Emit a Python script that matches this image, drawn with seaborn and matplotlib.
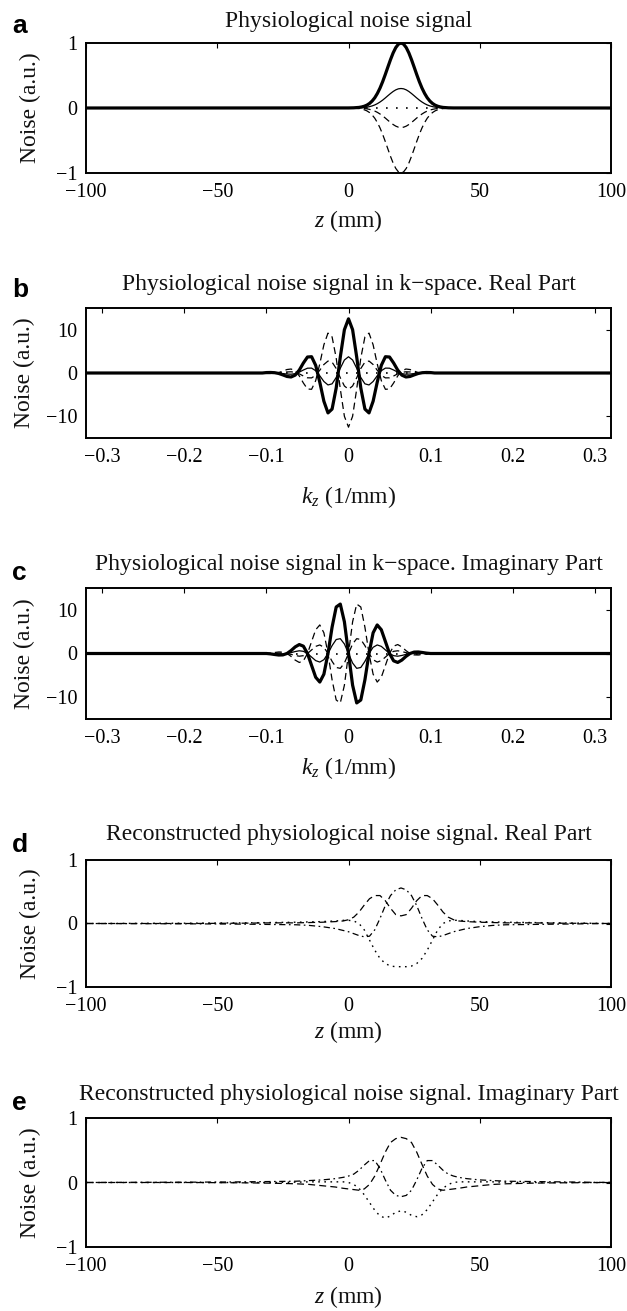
import matplotlib
matplotlib.use("Agg")
import matplotlib.pyplot as plt
import seaborn as sns

# ---------------- data ----------------
# (a) physiological noise profiles along z (mm)
z_a = [-100, 0, 2, 4, 5, 6, 7, 8, 9, 10, 11, 12, 13, 14, 15, 16, 17, 18, 19, 20,
       21, 22, 23, 24, 25, 26, 27, 28, 29, 30, 31, 32, 33, 34, 35, 36, 38, 40, 100]
noise_a_thick = [0, 0.001, 0.003, 0.009, 0.016, 0.027, 0.044, 0.070, 0.107, 0.157,
                 0.224, 0.306, 0.404, 0.514, 0.630, 0.744, 0.847, 0.929, 0.982, 1.000,
                 0.982, 0.929, 0.847, 0.744, 0.630, 0.514, 0.404, 0.306, 0.224, 0.157,
                 0.107, 0.070, 0.044, 0.027, 0.016, 0.009, 0.003, 0.001, 0]
noise_a_thin = [0, 0.000, 0.001, 0.003, 0.005, 0.008, 0.013, 0.021, 0.032, 0.047,
                0.067, 0.092, 0.121, 0.154, 0.189, 0.223, 0.254, 0.279, 0.295, 0.300,
                0.295, 0.279, 0.254, 0.223, 0.189, 0.154, 0.121, 0.092, 0.067, 0.047,
                0.032, 0.021, 0.013, 0.008, 0.005, 0.003, 0.001, 0.000, 0]
noise_a_negsmall = [0, -0.000, -0.001, -0.003, -0.005, -0.008, -0.013, -0.021, -0.032, -0.047,
                    -0.067, -0.092, -0.121, -0.154, -0.189, -0.223, -0.254, -0.279, -0.295, -0.300,
                    -0.295, -0.279, -0.254, -0.223, -0.189, -0.154, -0.121, -0.092, -0.067, -0.047,
                    -0.032, -0.021, -0.013, -0.008, -0.005, -0.003, -0.001, -0.000, 0]
noise_a_neglarge = [0, -0.001, -0.003, -0.009, -0.016, -0.027, -0.044, -0.070, -0.107, -0.157,
                    -0.224, -0.306, -0.404, -0.514, -0.630, -0.744, -0.847, -0.929, -0.982, -1.000,
                    -0.982, -0.929, -0.847, -0.744, -0.630, -0.514, -0.404, -0.306, -0.224, -0.157,
                    -0.107, -0.070, -0.044, -0.027, -0.016, -0.009, -0.003, -0.001, 0]
z_zero = [-100, 100]
zero_line = [0, 0]

# (b, c) k-space samples (1/mm)
k_b = [-0.32, -0.105,
       -0.100, -0.095, -0.090, -0.085, -0.080, -0.075, -0.070, -0.065, -0.060, -0.055,
       -0.050, -0.045, -0.040, -0.035, -0.030, -0.025, -0.020, -0.015, -0.010, -0.005,
       0.000,
       0.005, 0.010, 0.015, 0.020, 0.025, 0.030, 0.035, 0.040, 0.045, 0.050,
       0.055, 0.060, 0.065, 0.070, 0.075, 0.080, 0.085, 0.090, 0.095, 0.100,
       0.105, 0.32]
k_zero = [-0.32, 0.32]

real_thick = [0, 0,
              0.10, 0.12, 0.07, -0.11, -0.44, -0.80, -0.92, -0.49, 0.67, 2.31,
              3.69, 3.76, 1.77, -2.13, -6.52, -9.21, -8.32, -3.46, 3.68, 9.99,
              12.50,
              9.99, 3.68, -3.46, -8.32, -9.21, -6.52, -2.13, 1.77, 3.76, 3.69,
              2.31, 0.67, -0.49, -0.92, -0.80, -0.44, -0.11, 0.07, 0.12, 0.10,
              0, 0]
real_thin = [0, 0,
             0.03, 0.04, 0.02, -0.03, -0.13, -0.24, -0.28, -0.15, 0.20, 0.69,
             1.11, 1.13, 0.53, -0.64, -1.96, -2.76, -2.50, -1.04, 1.10, 3.00,
             3.75,
             3.00, 1.10, -1.04, -2.50, -2.76, -1.96, -0.64, 0.53, 1.13, 1.11,
             0.69, 0.20, -0.15, -0.28, -0.24, -0.13, -0.03, 0.02, 0.04, 0.03,
             0, 0]
real_negsmall = [0, 0,
                 -0.03, -0.04, -0.02, 0.03, 0.13, 0.24, 0.28, 0.15, -0.20, -0.69,
                 -1.11, -1.13, -0.53, 0.64, 1.96, 2.76, 2.50, 1.04, -1.10, -3.00,
                 -3.75,
                 -3.00, -1.10, 1.04, 2.50, 2.76, 1.96, 0.64, -0.53, -1.13, -1.11,
                 -0.69, -0.20, 0.15, 0.28, 0.24, 0.13, 0.03, -0.02, -0.04, -0.03,
                 0, 0]
real_neglarge = [0, 0,
                 -0.10, -0.12, -0.07, 0.11, 0.44, 0.80, 0.92, 0.49, -0.67, -2.31,
                 -3.69, -3.76, -1.77, 2.13, 6.52, 9.21, 8.32, 3.46, -3.68, -9.99,
                 -12.50,
                 -9.99, -3.68, 3.46, 8.32, 9.21, 6.52, 2.13, -1.77, -3.76, -3.69,
                 -2.31, -0.67, 0.49, 0.92, 0.80, 0.44, 0.11, -0.07, -0.12, -0.10,
                 0, 0]

imag_thick = [0, 0,
              0.00, -0.09, -0.23, -0.35, -0.32, 0.00, 0.67, 1.51, 2.05, 1.68,
              0.00, -2.73, -5.44, -6.54, -4.74, 0.00, 6.04, 10.65, 11.32, 7.26,
              0.00,
              -7.26, -11.32, -10.65, -6.04, 0.00, 4.74, 6.54, 5.44, 2.73, 0.00,
              -1.68, -2.05, -1.51, -0.67, 0.00, 0.32, 0.35, 0.23, 0.09, 0.00,
              0, 0]
imag_thin = [0, 0,
             0.00, -0.03, -0.07, -0.11, -0.10, 0.00, 0.20, 0.45, 0.62, 0.50,
             0.00, -0.82, -1.63, -1.96, -1.42, 0.00, 1.81, 3.20, 3.40, 2.18,
             0.00,
             -2.18, -3.40, -3.20, -1.81, 0.00, 1.42, 1.96, 1.63, 0.82, 0.00,
             -0.50, -0.62, -0.45, -0.20, 0.00, 0.10, 0.11, 0.07, 0.03, 0.00,
             0, 0]
imag_negsmall = [0, 0,
                 0.00, 0.03, 0.07, 0.11, 0.10, 0.00, -0.20, -0.45, -0.62, -0.50,
                 0.00, 0.82, 1.63, 1.96, 1.42, 0.00, -1.81, -3.20, -3.40, -2.18,
                 0.00,
                 2.18, 3.40, 3.20, 1.81, 0.00, -1.42, -1.96, -1.63, -0.82, 0.00,
                 0.50, 0.62, 0.45, 0.20, 0.00, -0.10, -0.11, -0.07, -0.03, 0.00,
                 0, 0]
imag_neglarge = [0, 0,
                 0.00, 0.09, 0.23, 0.35, 0.32, 0.00, -0.67, -1.51, -2.05, -1.68,
                 0.00, 2.73, 5.44, 6.54, 4.74, 0.00, -6.04, -10.65, -11.32, -7.26,
                 0.00,
                 7.26, 11.32, 10.65, 6.04, 0.00, -4.74, -6.54, -5.44, -2.73, 0.00,
                 1.68, 2.05, 1.51, 0.67, 0.00, -0.32, -0.35, -0.23, -0.09, 0.00,
                 0, 0]

# (d, e) reconstructed signals along z (mm)
z_rec = [-100, -60, -40, -30, -20, -15, -10, -5, -2, 0, 2, 4, 6, 8, 10, 12, 14, 16, 18, 20,
         22, 24, 26, 28, 30, 32, 34, 36, 38, 40, 42, 45, 50, 55, 60, 70, 80, 100]
rec_real_dash = [0.0, 0.0, 0.005, 0.01, 0.01, 0.015, 0.02, 0.03, 0.04, 0.06, 0.10, 0.18, 0.29,
                 0.39, 0.44, 0.44, 0.36, 0.24, 0.14, 0.12, 0.14, 0.24, 0.36, 0.44, 0.44, 0.39,
                 0.29, 0.18, 0.10, 0.06, 0.04, 0.03, 0.02, 0.015, 0.01, 0.01, 0.005, 0.0]
rec_real_dashdot = [0.0, -0.005, -0.01, -0.015, -0.02, -0.03, -0.05, -0.08, -0.11, -0.13, -0.16,
                    -0.19, -0.21, -0.20, -0.10, 0.08, 0.28, 0.44, 0.53, 0.56, 0.53, 0.44, 0.28,
                    0.08, -0.10, -0.20, -0.21, -0.19, -0.16, -0.13, -0.11, -0.08, -0.05, -0.03,
                    -0.02, -0.015, -0.01, 0.0]
rec_real_dot = [0.0, 0.005, 0.01, 0.015, 0.02, 0.025, 0.03, 0.04, 0.05, 0.05, 0.04, 0.00, -0.10,
                -0.26, -0.42, -0.55, -0.63, -0.67, -0.68, -0.68, -0.68, -0.67, -0.63, -0.55,
                -0.42, -0.26, -0.10, 0.00, 0.04, 0.05, 0.05, 0.04, 0.03, 0.025, 0.02, 0.015,
                0.01, 0.0]
rec_imag_dash = [0.0, 0.0, -0.005, -0.01, -0.02, -0.03, -0.05, -0.07, -0.09, -0.10, -0.11, -0.12,
                 -0.10, -0.03, 0.10, 0.28, 0.47, 0.62, 0.68, 0.70, 0.68, 0.62, 0.47, 0.28, 0.10,
                 -0.03, -0.10, -0.12, -0.11, -0.10, -0.09, -0.07, -0.05, -0.03, -0.02, -0.01,
                 -0.005, 0.0]
rec_imag_dashdot = [0.0, 0.005, 0.01, 0.015, 0.02, 0.03, 0.04, 0.06, 0.08, 0.10, 0.13, 0.19, 0.27,
                    0.34, 0.34, 0.22, 0.04, -0.12, -0.20, -0.22, -0.20, -0.12, 0.04, 0.22, 0.34,
                    0.34, 0.27, 0.19, 0.13, 0.10, 0.08, 0.06, 0.04, 0.03, 0.02, 0.015, 0.01, 0.0]
rec_imag_dot = [0.0, 0.0, 0.0, 0.0, 0.005, 0.01, 0.01, 0.01, 0.01, 0.0, -0.03, -0.09, -0.19,
                -0.31, -0.43, -0.52, -0.55, -0.52, -0.46, -0.44, -0.46, -0.51, -0.53, -0.50,
                -0.42, -0.30, -0.18, -0.09, -0.03, 0.0, 0.01, 0.01, 0.01, 0.01, 0.005, 0.0,
                0.0, 0.0]

# tick labels
z_ticks = [-100, -50, 0, 50, 100]
z_ticklabels = ["\u2212100", "\u221250", "0", "50", "100"]
k_ticks = [-0.3, -0.2, -0.1, 0, 0.1, 0.2, 0.3]
k_ticklabels = ["\u22120.3", "\u22120.2", "\u22120.1", "0", "0.1", "0.2", "0.3"]
unit_ticks = [-1, 0, 1]
unit_ticklabels = ["\u22121", "0", "1"]
ten_ticks = [-10, 0, 10]
ten_ticklabels = ["\u221210", "0", "10"]

titles = ["Physiological noise signal",
          "Physiological noise signal in k\u2212space. Real Part",
          "Physiological noise signal in k\u2212space. Imaginary Part",
          "Reconstructed physiological noise signal. Real Part",
          "Reconstructed physiological noise signal. Imaginary Part"]
letters = ["a", "b", "c", "d", "e"]

# ---------------- style ----------------
sns.set_style("white")
plt.rcParams["font.family"] = ["Liberation Serif", "DejaVu Serif"]
plt.rcParams["mathtext.fontset"] = "custom"
plt.rcParams["mathtext.rm"] = "Liberation Serif"
plt.rcParams["mathtext.it"] = "Liberation Serif:italic"
plt.rcParams["lines.scale_dashes"] = False
plt.rcParams["axes.unicode_minus"] = True

W, H = 627, 1311
fig = plt.figure(figsize=(W / 100, H / 100), dpi=100)
fig.patch.set_facecolor("white")

LEFT, RIGHT = 86, 611
TITLE_FS = 17
TICK_FS = 14.5


def px_axes(top, bottom):
    return fig.add_axes([LEFT / W, 1 - bottom / H, (RIGHT - LEFT) / W, (bottom - top) / H])


def text_px(x, y, s, **kw):
    fig.text(x / W, 1 - y / H, s, **kw)


DASH = (0, (5.0, 3.0))
DOT = (0, (1.2, 6.0))
DOT_FINE = (0, (1.2, 3.2))
DASHDOT = (0, (4.5, 2.5, 1.2, 2.5))


def line(ax, x, y, lw, ls):
    sns.lineplot(x=x, y=y, ax=ax, color="black", linewidth=lw, linestyle=ls,
                 estimator=None, sort=False)


def finish(ax, xlim, xticks, xlabels, ylim, yticks, ylabels):
    ax.set_xlim(*xlim)
    ax.set_ylim(*ylim)
    ax.set_xticks(xticks)
    ax.set_xticklabels(xlabels)
    ax.set_yticks(yticks)
    ax.set_yticklabels(ylabels)
    ax.set_xlabel("")
    ax.set_ylabel("")
    ax.tick_params(axis="both", direction="in", top=True, right=True,
                   length=3.8, width=0.8, labelsize=TICK_FS, colors="black")
    ax.tick_params(axis="x", pad=7)
    ax.tick_params(axis="y", pad=6)
    for sp in ax.spines.values():
        sp.set_linewidth(1.4)
        sp.set_color("black")
        sp.set_visible(True)
    ax.set_facecolor("white")


# panel geometry in pixels: axes top, bottom, title baseline, letter baseline,
# x-label baseline, y-label centre x
geo = [
    (43, 173, 27, 33, 227, 30),
    (308, 438, 290, 297, 503, 24),
    (588, 719, 570, 580, 774, 24),
    (860, 987, 840, 852, 1038, 30),
    (1118, 1247, 1100, 1110, 1303, 30),
]

axes = [px_axes(g[0], g[1]) for g in geo]

# (a)
ax = axes[0]
line(ax, z_zero, zero_line, 1.2, DOT)
line(ax, z_a, noise_a_neglarge, 0.9, DASH)
line(ax, z_a, noise_a_negsmall, 0.9, DASH)
line(ax, z_a, noise_a_thin, 0.9, "-")
line(ax, z_a, noise_a_thick, 2.3, "-")
finish(ax, (-100, 100), z_ticks, z_ticklabels, (-1, 1), unit_ticks, unit_ticklabels)

# (b)
ax = axes[1]
line(ax, k_zero, zero_line, 1.2, DOT)
line(ax, k_b, real_neglarge, 0.9, DASH)
line(ax, k_b, real_negsmall, 0.9, DASH)
line(ax, k_b, real_thin, 0.9, "-")
line(ax, k_b, real_thick, 2.3, "-")
finish(ax, (-0.32, 0.32), k_ticks, k_ticklabels, (-15, 15), ten_ticks, ten_ticklabels)

# (c)
ax = axes[2]
line(ax, k_zero, zero_line, 1.2, DOT)
line(ax, k_b, imag_neglarge, 0.9, DASH)
line(ax, k_b, imag_negsmall, 0.9, DASH)
line(ax, k_b, imag_thin, 0.9, "-")
line(ax, k_b, imag_thick, 2.3, "-")
finish(ax, (-0.32, 0.32), k_ticks, k_ticklabels, (-15, 15), ten_ticks, ten_ticklabels)

# (d)
ax = axes[3]
line(ax, z_rec, rec_real_dot, 1.0, DOT_FINE)
line(ax, z_rec, rec_real_dashdot, 0.9, DASHDOT)
line(ax, z_rec, rec_real_dash, 0.9, DASH)
finish(ax, (-100, 100), z_ticks, z_ticklabels, (-1, 1), unit_ticks, unit_ticklabels)

# (e)
ax = axes[4]
line(ax, z_rec, rec_imag_dot, 1.0, DOT_FINE)
line(ax, z_rec, rec_imag_dashdot, 0.9, DASHDOT)
line(ax, z_rec, rec_imag_dash, 0.9, DASH)
finish(ax, (-100, 100), z_ticks, z_ticklabels, (-1, 1), unit_ticks, unit_ticklabels)

xlabels = ["$z$ (mm)", "$k_z$ (1/mm)", "$k_z$ (1/mm)", "$z$ (mm)", "$z$ (mm)"]
cx = (LEFT + RIGHT) / 2
for (top, bottom, tb, lb, xb, yx), title, letter, xl in zip(geo, titles, letters, xlabels):
    text_px(cx, tb, title, ha="center", va="baseline", fontsize=TITLE_FS, color="#111111")
    text_px(12, lb, letter, ha="left", va="baseline", fontsize=19, fontweight="bold",
            family=["Liberation Sans", "DejaVu Sans"], color="black")
    text_px(cx, xb, xl, ha="center", va="baseline", fontsize=TITLE_FS, color="#111111")
    text_px(yx, (top + bottom) / 2, "Noise (a.u.)", ha="center", va="center",
            rotation=90, fontsize=TITLE_FS, color="#111111")

fig.savefig("out.png", dpi=100, facecolor="white")
